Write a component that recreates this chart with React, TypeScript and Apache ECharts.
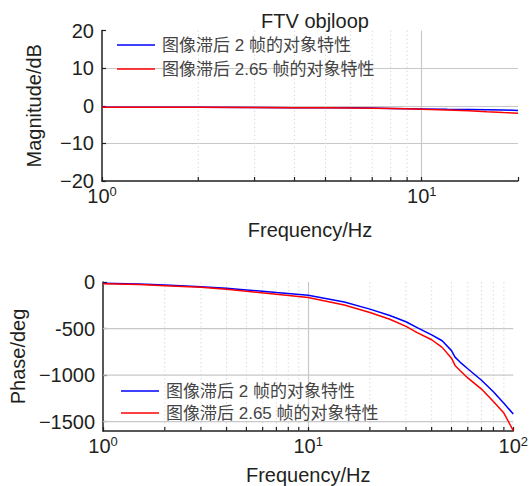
import React, { useEffect, useRef } from "react";
import * as echarts from "echarts";

const FONT = '"Liberation Sans", Arial, "Noto Sans CJK SC", sans-serif';
const INK = "#231f20";

const seriesNames = ["图像滞后 2 帧的对象特性", "图像滞后 2.65 帧的对象特性"];

// Magnitude plot
const magFreqs = [1, 1.5, 2, 3, 4, 5, 6, 7, 8, 9, 10, 12, 14, 16, 18, 20];
const magBlue = [-0.4, -0.4, -0.42, -0.45, -0.5, -0.52, -0.56, -0.62, -0.7, -0.78, -0.85, -0.95, -1.0, -1.05, -1.12, -1.25];
const magRed = [-0.4, -0.4, -0.42, -0.46, -0.5, -0.55, -0.6, -0.66, -0.74, -0.82, -0.9, -1.1, -1.35, -1.6, -1.8, -1.97];
const magTickValues = [-20, -10, 0, 10, 20];
const magTickLabels = ["\u221220", "\u221210", "0", "10", "20"];
const magMinorFreqs = [2, 3, 4, 5, 6, 7, 8, 9];

// Phase plot
const phaseFreqs = [1, 1.5, 2, 3, 4, 5, 7, 10, 15, 20, 25, 30, 34, 40, 45, 50, 52, 55, 60, 70, 80, 90, 100];
const phaseBlue = [-14, -22, -32, -50, -68, -85, -114, -142, -215, -291, -360, -427, -490, -567, -631, -737, -807, -860, -931, -1055, -1178, -1302, -1418];
const phaseRed = [-18, -26, -39, -57, -78, -100, -131, -167, -248, -327, -400, -476, -543, -620, -702, -818, -896, -950, -1030, -1150, -1284, -1408, -1595];
const phaseTickValues = [0, -500, -1000, -1500];
const phaseTickLabels = ["0", "-500", "\u22121000", "\u22121500"];
const phaseGridValues = [-500, -1000, -1500];
const phaseMinorFreqs = [2, 3, 4, 5, 6, 7, 8, 9, 20, 30, 40, 50, 60, 70, 80, 90];

const zip = (xs: number[], ys: number[]) => xs.map((x, i) => [x, ys[i]]);

const logLabel = (v: number) => {
  const e = Math.log10(v);
  const r = Math.round(e);
  if (Math.abs(e - r) > 1e-6) return "";
  return "{b|10}{s|" + r + "}";
};

const xAxisBase = (gridIndex: number, max: number, nameGap: number) => ({
  type: "log",
  logBase: 10,
  gridIndex,
  min: 1,
  max,
  name: "Frequency/Hz",
  nameLocation: "middle",
  nameGap,
  nameTextStyle: { fontSize: 20, color: INK, fontFamily: FONT },
  axisLine: { show: true, onZero: false, lineStyle: { color: INK, width: 1.5 } },
  axisTick: { show: true, inside: true, length: 4, lineStyle: { color: INK, width: 1.2 } },
  axisLabel: {
    margin: 4,
    formatter: logLabel,
    showMaxLabel: true,
    rich: {
      b: { fontSize: 20, color: INK, fontFamily: FONT, lineHeight: 22 },
      s: { fontSize: 13, color: INK, fontFamily: FONT, verticalAlign: "top", lineHeight: 22 },
    },
  },
  splitLine: {
    show: true,
    showMinLine: false,
    showMaxLine: false,
    lineStyle: { color: "#c8c8c8", width: 1.2 },
  },
  minorTick: { show: false },
});

const minorRender = (params: any, api: any) => {
  const cs = params.coordSys;
  const x = api.coord([api.value(0), api.value(1)])[0];
  const yb = cs.y + cs.height;
  return {
    type: "group",
    children: [
      {
        type: "line",
        shape: { x1: x, y1: cs.y, x2: x, y2: yb },
        style: { stroke: "#dcdcdc", lineWidth: 1, lineDash: [1.5, 2.5] },
      },
      {
        type: "line",
        shape: { x1: x, y1: yb, x2: x, y2: yb - 4 },
        style: { stroke: INK, lineWidth: 1.2 },
      },
    ],
  };
};

const hGridRender = (params: any, api: any) => {
  const cs = params.coordSys;
  const y = api.coord([api.value(0), api.value(1)])[1];
  return {
    type: "line",
    shape: { x1: cs.x, y1: y, x2: cs.x + cs.width, y2: y },
    style: { stroke: "#c8c8c8", lineWidth: 1.2 },
  };
};

export default function App() {
  const ref = useRef<HTMLDivElement>(null);

  useEffect(() => {
    if (!ref.current) return;
    const chart = echarts.init(ref.current, undefined, { renderer: "svg" });
    const lineSeries = (name: string, color: string, data: number[][], idx: number) => ({
      type: "line",
      name,
      xAxisIndex: idx,
      yAxisIndex: idx,
      data,
      symbol: "none",
      showSymbol: false,
      z: 3,
      lineStyle: { color, width: 1.5 },
      itemStyle: { color },
    });
    const legendBase = {
      orient: "vertical",
      icon: "rect",
      itemWidth: 38,
      itemHeight: 1.6,
      padding: 0,
      data: seriesNames,
      selectedMode: false,
      textStyle: { fontSize: 17, color: "#444", fontFamily: FONT, padding: [0, 0, 0, 2], lineHeight: 17 },
    };
    chart.setOption({
      animation: false,
      backgroundColor: "#ffffff",
      title: {
        text: "FTV objloop",
        left: 310,
        textAlign: "center",
        top: 6,
        textStyle: { fontSize: 20, fontWeight: "normal", color: INK, fontFamily: FONT },
      },
      legend: [
        { ...legendBase, left: 117, top: 36.5, itemGap: 7 },
        { ...legendBase, left: 121, top: 382.5, itemGap: 5 },
      ],
      grid: [
        { left: 102, top: 30.5, width: 416, height: 150.5 },
        { left: 102, top: 282, width: 417, height: 151.3 },
      ],
      xAxis: [xAxisBase(0, 20, 39), xAxisBase(1, 100, 34)],
      yAxis: [
        {
          type: "value",
          gridIndex: 0,
          min: -20,
          max: 20,
          interval: 10,
          name: "Magnitude/dB",
          nameLocation: "middle",
          nameGap: 58,
          nameTextStyle: { fontSize: 20, color: INK, fontFamily: FONT },
          axisLine: { show: true, onZero: false, lineStyle: { color: INK, width: 1.5 } },
          axisTick: { show: true, inside: true, length: 4, lineStyle: { color: INK, width: 1.2 } },
          axisLabel: {
            margin: 8,
            fontSize: 20,
            color: INK,
            fontFamily: FONT,
            formatter: (v: number) => {
              const i = magTickValues.indexOf(v);
              return i >= 0 ? magTickLabels[i] : String(v);
            },
          },
          splitLine: {
            show: true,
            showMinLine: false,
            showMaxLine: false,
            lineStyle: { color: "#c8c8c8", width: 1.2 },
          },
        },
        {
          type: "value",
          gridIndex: 1,
          min: -1600,
          max: 0,
          name: "Phase/deg",
          nameLocation: "middle",
          nameGap: 68,
          nameTextStyle: { fontSize: 20, color: INK, fontFamily: FONT },
          axisLine: { show: true, onZero: false, lineStyle: { color: INK, width: 1.5 } },
          axisTick: {
            show: true,
            inside: true,
            length: 4,
            customValues: phaseTickValues,
            lineStyle: { color: INK, width: 1.2 },
          },
          axisLabel: {
            margin: 8,
            fontSize: 20,
            color: INK,
            fontFamily: FONT,
            customValues: phaseTickValues,
            formatter: (v: number) => {
              const i = phaseTickValues.indexOf(v);
              return i >= 0 ? phaseTickLabels[i] : String(v);
            },
          },
          splitLine: { show: false },
        },
      ],
      series: [
        {
          type: "custom",
          xAxisIndex: 0,
          yAxisIndex: 0,
          silent: true,
          z: 1,
          renderItem: minorRender,
          data: magMinorFreqs.map((f) => [f, -20]),
        },
        {
          type: "custom",
          xAxisIndex: 1,
          yAxisIndex: 1,
          silent: true,
          z: 1,
          renderItem: minorRender,
          data: phaseMinorFreqs.map((f) => [f, -1600]),
        },
        {
          type: "custom",
          xAxisIndex: 1,
          yAxisIndex: 1,
          silent: true,
          z: 1,
          renderItem: hGridRender,
          data: phaseGridValues.map((v) => [1, v]),
        },
        lineSeries(seriesNames[0], "#0000ff", zip(magFreqs, magBlue), 0),
        lineSeries(seriesNames[1], "#ff0000", zip(magFreqs, magRed), 0),
        lineSeries(seriesNames[0], "#0000ff", zip(phaseFreqs, phaseBlue), 1),
        lineSeries(seriesNames[1], "#ff0000", zip(phaseFreqs, phaseRed), 1),
      ],
    });
    return () => chart.dispose();
  }, []);

  return (
    <div
      ref={ref}
      style={{ position: "absolute", left: 0, top: 0, width: 531, height: 486, background: "#fff" }}
    />
  );
}
